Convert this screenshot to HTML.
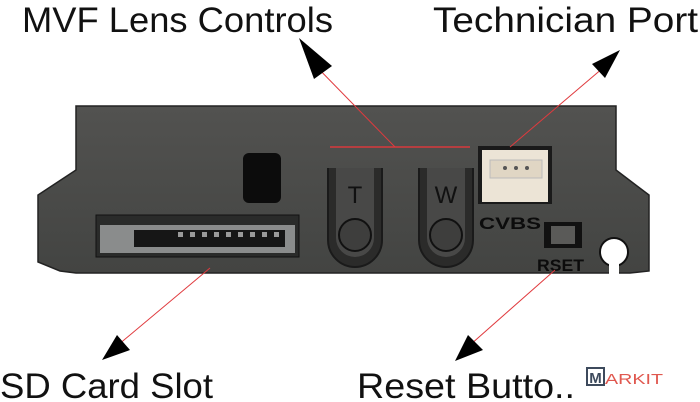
<!DOCTYPE html>
<html><head><style>html,body{margin:0;padding:0;background:#fff}svg{display:block}</style></head>
<body>
<svg width="700" height="402" viewBox="0 0 700 402" xmlns="http://www.w3.org/2000/svg" font-family="Liberation Sans, sans-serif">
<defs>
<linearGradient id="pg" x1="0" y1="0" x2="0" y2="1"><stop offset="0" stop-color="#525250"/><stop offset="1" stop-color="#434442"/></linearGradient>
</defs>
<path d="M76,106 L616,106 L616,170 L649,195 L649,271 L630,273 L76,273 L60,271 L38,262 L38,195 L76,170 Z" fill="url(#pg)" stroke="#222" stroke-width="1.5"/>
<circle cx="614" cy="252" r="14" fill="#fff" stroke="#111" stroke-width="2"/>
<rect x="609" y="262" width="10" height="12" fill="#fff"/>
<rect x="243" y="153" width="38" height="50" rx="6" fill="#0c0c0c"/>
<line x1="330" y1="147" x2="470" y2="147" stroke="#d8383c" stroke-width="1.5"/>
<path d="M328,168 L328,240 A27,27 0 0 0 382,240 L382,168" fill="#2b2b2a" stroke="#1a1a1a" stroke-width="2"/>
<path d="M336,168 L336,238 A19,19 0 0 0 374,238 L374,168 Z" fill="#484847"/>
<circle cx="355" cy="235" r="16" fill="#3e3e3d" stroke="#111" stroke-width="2"/>
<text x="355" y="203" font-size="24" fill="#111" text-anchor="middle">T</text>
<path d="M419,168 L419,240 A27,27 0 0 0 473,240 L473,168" fill="#2b2b2a" stroke="#1a1a1a" stroke-width="2"/>
<path d="M427,168 L427,238 A19,19 0 0 0 465,238 L465,168 Z" fill="#484847"/>
<circle cx="446" cy="235" r="16" fill="#3e3e3d" stroke="#111" stroke-width="2"/>
<text x="446" y="203" font-size="24" fill="#111" text-anchor="middle">W</text>
<rect x="478" y="146" width="74" height="58" fill="#1a1a1a"/>
<rect x="482" y="150" width="66" height="52" fill="#ece4d6"/>
<rect x="490" y="160" width="52" height="18" fill="#e0d6c4" stroke="#bbb"/>
<circle cx="505" cy="168" r="2" fill="#555"/><circle cx="516" cy="168" r="2" fill="#555"/><circle cx="527" cy="168" r="2" fill="#555"/>
<text x="479" y="229" font-size="17" font-weight="bold" fill="#0c0c0c" textLength="62" lengthAdjust="spacingAndGlyphs">CVBS</text>
<rect x="544" y="222" width="38" height="26" fill="#111"/>
<rect x="551" y="226" width="24" height="18" fill="#5a5a58"/>
<text x="537" y="271" font-size="17" font-weight="bold" fill="#0c0c0c" textLength="47" lengthAdjust="spacingAndGlyphs">RSET</text>
<rect x="96" y="215" width="203" height="42" fill="#2a2b2a" stroke="#111"/>
<rect x="100" y="225" width="195" height="28" fill="#8a8c8c"/>
<rect x="134" y="230" width="151" height="17" fill="#161616"/>
<g fill="#9a9a9a">
<rect x="178" y="232" width="5" height="5"/><rect x="190" y="232" width="5" height="5"/><rect x="202" y="232" width="5" height="5"/><rect x="214" y="232" width="5" height="5"/><rect x="226" y="232" width="5" height="5"/><rect x="238" y="232" width="5" height="5"/><rect x="250" y="232" width="5" height="5"/><rect x="262" y="232" width="5" height="5"/><rect x="274" y="232" width="5" height="5"/>
</g>
<g stroke="#e03a3e" stroke-width="1">
<line x1="395" y1="147" x2="310" y2="60"/>
<line x1="510" y1="147" x2="610" y2="62"/>
<line x1="210" y1="268" x2="118" y2="345"/>
<line x1="555" y1="270" x2="470" y2="345"/>
</g>
<g fill="#000">
<polygon points="299,38 332,66 314,79"/>
<polygon points="620,50 605,78 592,64"/>
<polygon points="102,360 117,335 130,350"/>
<polygon points="455,361 468,335 483,350"/>
</g>
<g font-size="35" fill="#111">
<text x="22" y="32" textLength="311" lengthAdjust="spacingAndGlyphs">MVF Lens Controls</text>
<text x="433" y="32" textLength="265" lengthAdjust="spacingAndGlyphs">Technician Port</text>
<text x="0" y="398" textLength="213" lengthAdjust="spacingAndGlyphs">SD Card Slot</text>
<text x="357" y="398" textLength="218" lengthAdjust="spacingAndGlyphs">Reset Butto..</text>
</g>
<rect x="587" y="368" width="17" height="17" fill="#fff" stroke="#3d4a5c" stroke-width="2"/>
<text x="595.5" y="383" font-size="15" font-weight="bold" fill="#3d4a5c" text-anchor="middle">M</text>
<text x="605" y="384" font-size="15" fill="#e0584f" textLength="58" lengthAdjust="spacingAndGlyphs">ARKIT</text>
</svg>
</body></html>
